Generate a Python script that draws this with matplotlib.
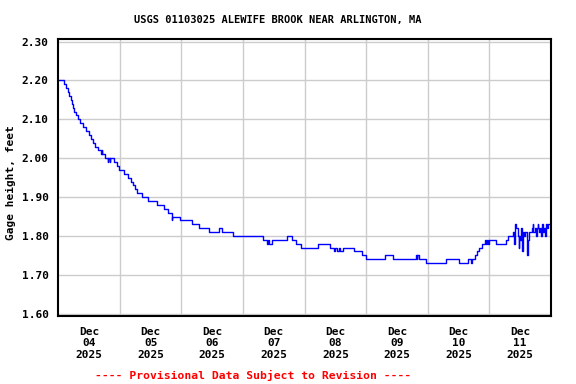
import matplotlib
matplotlib.use("Agg")
import matplotlib.pyplot as plt

# hours since Dec 04 2025 00:00, gage height in feet (step data)
hours = [0, 2.3, 3.1, 3.9, 4.3, 4.8, 5.2, 5.6, 6.1, 6.9, 7.8, 8.6, 9.7, 10.7,
         12.1, 12.8, 13.6, 14.4, 15.3, 16.6, 16.9, 17.2, 18.2, 19.2, 19.5,
         20.0, 20.3, 21.8, 22.8, 23.6, 25.6, 27.1, 28.3, 29.1, 29.9, 30.6,
         32.6, 34.9, 38.4, 41.1, 42.7, 44.3, 44.5, 47.4, 52.0, 54.8, 58.7,
         62.6, 63.7, 68.0, 79.7, 81.3, 81.6, 82.0, 83.2, 89.0, 91.0, 92.5,
         94.5, 101.1, 105.7, 107.3, 107.8, 108.8, 109.3, 109.8, 110.8, 115.1,
         118.2, 119.8, 127.5, 130.6, 139.2, 139.6, 139.9, 140.4, 143.1, 150.9,
         156.0, 159.8, 161.0, 161.3, 162.2, 163.0, 164.0, 165.0, 166.2, 166.6,
         167.0, 167.4, 168.0, 170.7, 174.6, 175.4, 177.0, 177.6, 177.8, 178.1,
         178.3, 179.0, 179.4, 179.6, 180.0, 180.2, 180.4, 180.7, 180.9, 181.6,
         181.8, 182.7, 182.9, 183.3, 184.5, 184.9, 185.1, 185.6, 186.2, 186.4,
         186.8, 187.0, 187.5, 187.7, 188.1, 188.3, 188.5, 188.7, 189.0, 189.4,
         189.8, 190.0, 190.1, 190.5, 190.9, 191.1]
height = [2.20, 2.19, 2.18, 2.17, 2.16, 2.15, 2.14, 2.13, 2.12, 2.11, 2.10, 2.09, 2.08, 2.07,
          2.06, 2.05, 2.04, 2.03, 2.02, 2.01, 2.02, 2.01, 2.00, 1.99, 2.00,
          1.99, 2.00, 1.99, 1.98, 1.97, 1.96, 1.95, 1.94, 1.93, 1.92, 1.91,
          1.90, 1.89, 1.88, 1.87, 1.86, 1.84, 1.85, 1.84, 1.83, 1.82, 1.81,
          1.82, 1.81, 1.80, 1.79, 1.78, 1.79, 1.78, 1.79, 1.80, 1.79, 1.78,
          1.77, 1.78, 1.77, 1.76, 1.77, 1.76, 1.77, 1.76, 1.77, 1.76,
          1.75, 1.74, 1.75, 1.74, 1.75, 1.74, 1.75, 1.74, 1.73, 1.74,
          1.73, 1.74, 1.73, 1.74, 1.75, 1.76, 1.77, 1.78, 1.79, 1.78,
          1.79, 1.78, 1.79, 1.78, 1.79, 1.80, 1.81, 1.78, 1.81, 1.83,
          1.82, 1.80, 1.77, 1.80, 1.79, 1.81, 1.82, 1.76, 1.81, 1.80,
          1.81, 1.75, 1.79, 1.81, 1.82, 1.83, 1.81, 1.82, 1.80, 1.82,
          1.83, 1.82, 1.81, 1.82, 1.80, 1.82, 1.83, 1.82, 1.81, 1.82,
          1.80, 1.82, 1.83, 1.82, 1.83, 1.83]

days = ["04", "05", "06", "07", "08", "09", "10", "11"]
yticks = [1.60, 1.70, 1.80, 1.90, 2.00, 2.10, 2.20, 2.30]

font = "DejaVu Sans Mono"

fig = plt.figure(figsize=(5.76, 3.84), dpi=100)
ax = fig.add_axes([58.3 / 576, 1 - 316 / 384, (551 - 58.3) / 576, (316 - 39.3) / 384])

ax.plot(hours, height, color="#0000ff", lw=1.0, drawstyle="steps-post")

ax.set_xlim(0, 192)
ax.set_ylim(1.594, 2.306)

ax.set_yticks(yticks)
ax.set_yticklabels(["%.2f" % v for v in yticks], fontfamily=font, fontweight="bold", fontsize=8)
ax.set_xticks([12 + 24 * i for i in range(len(days))])
ax.set_xticklabels(["Dec\n%s\n2025" % d for d in days], fontfamily=font,
                   fontweight="bold", fontsize=8, linespacing=1.15)
ax.set_xticks([24 * i for i in range(1, 8)], minor=True)
ax.tick_params(axis="both", which="both", length=0)
ax.tick_params(axis="y", pad=7)
ax.tick_params(axis="x", pad=8)

ax.grid(True, which="minor", axis="x", color="#cccccc", lw=1.0)
ax.grid(True, which="major", axis="y", color="#cccccc", lw=1.0)
ax.set_axisbelow(True)
for s in ax.spines.values():
    s.set_linewidth(1.5)
    s.set_color("black")

fig.text(277.5 / 576, 1 - 20 / 384, "USGS 01103025 ALEWIFE BROOK NEAR ARLINGTON, MA",
         ha="center", va="center", fontfamily=font, fontweight="bold", fontsize=7.5)
fig.text(11 / 576, 1 - 183 / 384, "Gage height, feet", rotation=90,
         ha="center", va="center", fontfamily=font, fontweight="bold", fontsize=8)
fig.text(253.5 / 576, 1 - 375 / 384, "---- Provisional Data Subject to Revision ----",
         ha="center", va="center", color="red", fontfamily=font, fontweight="bold", fontsize=8.2)

fig.savefig("out.png", dpi=100)
